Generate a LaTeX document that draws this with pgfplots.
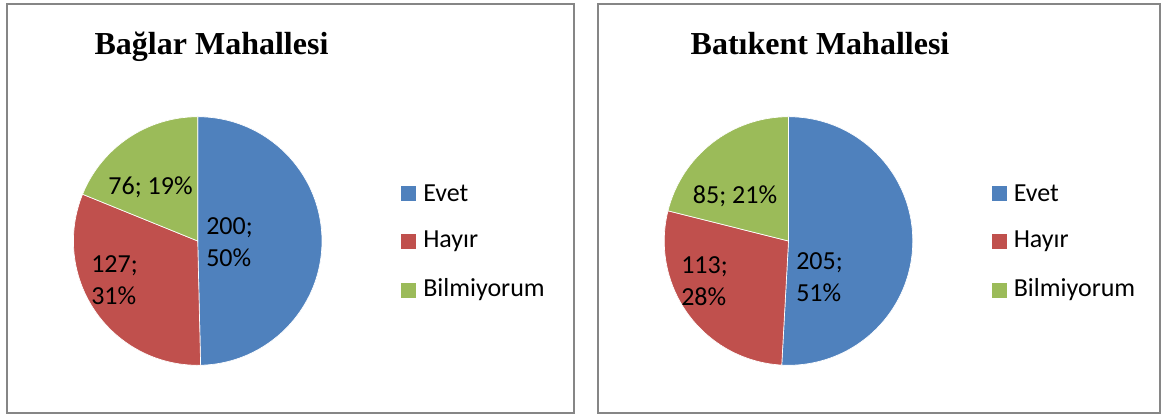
\documentclass[border=0pt]{standalone}
\usepackage{pgfplots}
\pgfplotsset{compat=1.18}
\usepackage{pgfplotstable}
\usepackage{fontspec}
\setmainfont{Carlito}
\newfontfamily\titlefont{Liberation Serif}
\definecolor{evet}{HTML}{4F81BD}
\definecolor{hayir}{HTML}{C0504D}
\definecolor{bilmiyorum}{HTML}{9BBB59}
\definecolor{frame}{HTML}{868686}

\pgfplotstableread{
label value pct
Evet 200 50
Hayır 127 31
Bilmiyorum 76 19
}\baglar

\pgfplotstableread{
label value pct
Evet 205 51
Hayır 113 28
Bilmiyorum 85 21
}\batikent

\newcommand\setval[2]{\expandafter\edef\csname#1\endcsname{#2}}
\newcommand\makepie[2]{%
 \pgfplotstablegetelem{0}{value}\of{#1}\setval{#2va}{\pgfplotsretval}%
 \pgfplotstablegetelem{1}{value}\of{#1}\setval{#2vb}{\pgfplotsretval}%
 \pgfplotstablegetelem{2}{value}\of{#1}\setval{#2vc}{\pgfplotsretval}%
 \pgfplotstablegetelem{0}{pct}\of{#1}\setval{#2pa}{\pgfplotsretval}%
 \pgfplotstablegetelem{1}{pct}\of{#1}\setval{#2pb}{\pgfplotsretval}%
 \pgfplotstablegetelem{2}{pct}\of{#1}\setval{#2pc}{\pgfplotsretval}%
 \pgfplotstablegetelem{0}{label}\of{#1}\setval{#2la}{\pgfplotsretval}%
 \pgfplotstablegetelem{1}{label}\of{#1}\setval{#2lb}{\pgfplotsretval}%
 \pgfplotstablegetelem{2}{label}\of{#1}\setval{#2lc}{\pgfplotsretval}%
 \pgfmathsetmacro\tot{\csname#2va\endcsname+\csname#2vb\endcsname+\csname#2vc\endcsname}%
 \pgfmathsetmacro\fracA{\csname#2va\endcsname/\tot}%
 \pgfmathsetmacro\fracB{\csname#2vb\endcsname/\tot}%
 \pgfmathsetmacro\tmpA{90-360*\fracA}%
 \setval{#2angA}{\tmpA}%
 \pgfmathsetmacro\tmpB{\tmpA-360*\fracB}%
 \setval{#2angB}{\tmpB}%
}
\makepie{\baglar}{pieL}
\makepie{\batikent}{pieR}
\def\pr{93.2pt}

\begin{document}
\begin{tikzpicture}
\begin{axis}[width=871.5pt, height=312.75pt, scale only axis,
  xmin=0, xmax=1162, ymin=0, ymax=417, y dir=reverse,
  hide axis, clip=false]
\path (rel axis cs:0,0) rectangle (rel axis cs:1,1);
% panel frames
\draw[frame, line width=1.6pt] (axis cs:7,4) rectangle (axis cs:574,413);
\draw[frame, line width=1.6pt] (axis cs:598,4) rectangle (axis cs:1160,413);
% titles
\node[anchor=base, font=\titlefont\bfseries\fontsize{24}{28}\selectfont] at (axis cs:211.5,55) {Bağlar Mahallesi};
\node[anchor=base, font=\titlefont\bfseries\fontsize{24}{28}\selectfont] at (axis cs:820,55) {Batıkent Mahallesi};
% left pie
\filldraw[fill=evet, draw=white, line width=0.5pt] (axis cs:197.7,241) -- ++(90:\pr) arc[start angle=90, end angle=\pieLangA, radius=\pr] -- cycle;
\filldraw[fill=hayir, draw=white, line width=0.5pt] (axis cs:197.7,241) -- ++(\pieLangA:\pr) arc[start angle=\pieLangA, end angle=\pieLangB, radius=\pr] -- cycle;
\filldraw[fill=bilmiyorum, draw=white, line width=0.5pt] (axis cs:197.7,241) -- ++(\pieLangB:\pr) arc[start angle=\pieLangB, end angle=-270, radius=\pr] -- cycle;
% right pie
\filldraw[fill=evet, draw=white, line width=0.5pt] (axis cs:788.5,241) -- ++(90:\pr) arc[start angle=90, end angle=\pieRangA, radius=\pr] -- cycle;
\filldraw[fill=hayir, draw=white, line width=0.5pt] (axis cs:788.5,241) -- ++(\pieRangA:\pr) arc[start angle=\pieRangA, end angle=\pieRangB, radius=\pr] -- cycle;
\filldraw[fill=bilmiyorum, draw=white, line width=0.5pt] (axis cs:788.5,241) -- ++(\pieRangB:\pr) arc[start angle=\pieRangB, end angle=-270, radius=\pr] -- cycle;
% data labels
\tikzset{dl/.style={inner sep=0pt, align=left, font=\fontsize{19.5}{24}\selectfont}}
\node[dl, anchor=west] at (axis cs:206,242) {\pieLva;\\\pieLpa\%};
\node[dl, anchor=west] at (axis cs:91,280) {\pieLvb;\\\pieLpb\%};
\node[dl] at (axis cs:150.5,187.5) {\pieLvc; \pieLpc\%};
\node[dl, anchor=west] at (axis cs:796,277) {\pieRva;\\\pieRpa\%};
\node[dl, anchor=west] at (axis cs:681,281) {\pieRvb;\\\pieRpb\%};
\node[dl] at (axis cs:735,196.5) {\pieRvc; \pieRpc\%};
% legends
\tikzset{lg/.style={inner sep=0pt, anchor=west, font=\fontsize{19.5}{24}\selectfont}}
\fill[evet] (axis cs:401,186) rectangle (axis cs:416,201);
\fill[hayir] (axis cs:401,234) rectangle (axis cs:416,249);
\fill[bilmiyorum] (axis cs:401,282.5) rectangle (axis cs:416,297.5);
\node[lg] at (axis cs:423,193.5) {\pieLla};
\node[lg] at (axis cs:423,241.5) {\pieLlb};
\node[lg] at (axis cs:423,290) {\pieLlc};
\fill[evet] (axis cs:992,186) rectangle (axis cs:1007,201);
\fill[hayir] (axis cs:992,234) rectangle (axis cs:1007,249);
\fill[bilmiyorum] (axis cs:992,282.5) rectangle (axis cs:1007,297.5);
\node[lg] at (axis cs:1013.5,193.5) {\pieRla};
\node[lg] at (axis cs:1013.5,241.5) {\pieRlb};
\node[lg] at (axis cs:1013.5,290) {\pieRlc};
\end{axis}
\end{tikzpicture}
\end{document}
